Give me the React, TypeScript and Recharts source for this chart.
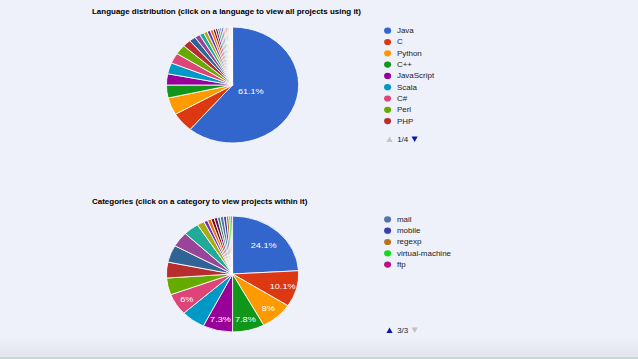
import React from 'react';
import { PieChart, Pie, Cell } from 'recharts';

const PALETTE = [
  '#3366cc', '#dc3912', '#ff9900', '#109618', '#990099', '#0099c6', '#dd4477', '#66aa00',
  '#b82e2e', '#316395', '#994499', '#22aa99', '#aaaa11', '#6633cc', '#e67300', '#8b0707',
  '#651067', '#329262', '#5574a6', '#3b3eac', '#b77322', '#16d620', '#b91383', '#f4359e',
  '#9c5935', '#a9c413', '#2a778d', '#668d1c', '#bea413', '#0c5922', '#743411',
];

const LANG_TITLE = 'Language distribution (click on a language to view all projects using it)';
const LANG_NAMES = [
  'Java', 'C', 'Python', 'C++', 'JavaScript', 'Scala', 'C#', 'Perl', 'PHP',
  'Ruby', 'Shell', 'Objective-C', 'Go', 'Haskell', 'Lua', 'Clojure', 'Erlang', 'Groovy',
  'R', 'Matlab', 'Assembly', 'Emacs Lisp', 'CoffeeScript', 'Visual Basic', 'OCaml', 'Scheme',
  'Fortran', 'Tcl', 'D', 'Prolog', 'Smalltalk',
];
const LANG_VALUES = [
  61.1, 5.5, 4.8, 3.6, 3.1, 3.1, 2.9, 2.7, 2.0,
  1.6, 1.3, 1.1, 0.9, 0.8, 0.7, 0.6, 0.55, 0.5,
  0.45, 0.4, 0.35, 0.3, 0.3, 0.25, 0.25, 0.2,
  0.2, 0.15, 0.1, 0.1, 0.1,
];
const LANG_PAGE = 0;

const CAT_TITLE = 'Categories (click on a category to view projects within it)';
const CAT_NAMES = [
  'web', 'database', 'library', 'framework', 'tool', 'network', 'testing', 'build', 'graphics',
  'security', 'compiler', 'game', 'parser', 'logging', 'cache', 'cli', 'editor', 'math',
  'mail', 'mobile', 'regexp', 'virtual-machine', 'ftp',
];
const CAT_VALUES = [
  24.1, 10.1, 8.0, 7.8, 7.3, 5.9, 6.0, 4.7, 4.4,
  4.8, 4.2, 3.8, 1.8, 0.9, 0.9, 0.8, 0.8, 0.7,
  0.8, 0.7, 0.6, 0.5, 0.4,
];
const CAT_PAGE = 2;

const PAGE_SIZE = 9;
const LABEL_MIN = 0.0599;

const SX = 1.14;
const NATIVE_W = 638 / SX;
const FONT = 'Arial, "Liberation Sans", sans-serif';
const RAD = Math.PI / 180;

const fmtPct = (p: number) => `${Math.round(p * 1000) / 10}%`;

const renderLabel = (props: any) => {
  const { cx, cy, midAngle, outerRadius, percent } = props;
  if (percent < LABEL_MIN) return null;
  let k: number;
  if (percent > 0.5) {
    const a = Math.PI * percent;
    k = (2 * Math.sin(a)) / (3 * a) * 0.9;
  } else {
    k = 0.68 + (0.25 - percent) * 0.7;
  }
  const r = outerRadius * k;
  const x = cx + r * Math.cos(-midAngle * RAD);
  const y = cy + r * Math.sin(-midAngle * RAD);
  return (
    <text x={x} y={y} fill="#ffffff" fontSize={8} fontFamily={FONT} textAnchor="middle" dominantBaseline="central">
      {fmtPct(percent)}
    </text>
  );
};

const makeData = (names: string[], values: number[]) => names.map((name, i) => ({ name, value: values[i] }));

const Tri = ({ x, y, up, color }: { x: number; y: number; up: boolean; color: string }) => {
  const w = 5.4;
  const h = 5.6;
  const pts = up
    ? `${x},${y + h / 2} ${x + w},${y + h / 2} ${x + w / 2},${y - h / 2}`
    : `${x},${y - h / 2} ${x + w},${y - h / 2} ${x + w / 2},${y + h / 2}`;
  return <polygon points={pts} fill={color} />;
};

const Legend = ({ names, page, y0, pagY }: { names: string[]; page: number; y0: number; pagY: number }) => {
  const pages = Math.ceil(names.length / PAGE_SIZE);
  const start = page * PAGE_SIZE;
  const items = names.slice(start, start + PAGE_SIZE);
  const hasPrev = page > 0;
  const hasNext = page < pages - 1;
  return (
    <g>
      {items.map((n, i) => (
        <g key={n}>
          <circle cx={340} cy={y0 + i * 11.3} r={3.1} fill={PALETTE[(start + i) % PALETTE.length]} />
          <text x={348.2} y={y0 + i * 11.3 + 2.5} fontSize={7} fontFamily={FONT} fill="#222222">{n}</text>
        </g>
      ))}
      <Tri x={339} y={pagY} up color={hasPrev ? '#0a1aa8' : '#c4c4c4'} />
      <text x={348.4} y={pagY + 2.5} fontSize={7} fontFamily={FONT} fill="#222222">{`${page + 1}/${pages}`}</text>
      <Tri x={361} y={pagY} up={false} color={hasNext ? '#0a1aa8' : '#c4c4c4'} />
    </g>
  );
};

const PieBlock = ({ names, values, top, height, cy }: { names: string[]; values: number[]; top: number; height: number; cy: number }) => (
  <div style={{ position: 'absolute', left: 0, top, width: NATIVE_W, height }}>
    <PieChart width={NATIVE_W} height={height} margin={{ top: 0, right: 0, bottom: 0, left: 0 }}>
      <Pie
        data={makeData(names, values)}
        dataKey="value"
        nameKey="name"
        cx={204}
        cy={cy}
        outerRadius={58}
        startAngle={90}
        endAngle={-270}
        stroke="#ffffff"
        strokeWidth={0.8}
        label={renderLabel}
        labelLine={false}
        isAnimationActive={false}
      >
        {names.map((n, i) => (
          <Cell key={n} fill={PALETTE[i % PALETTE.length]} />
        ))}
      </Pie>
    </PieChart>
  </div>
);

export default function App() {
  return (
    <div style={{ position: 'absolute', left: 0, top: 0, width: 638, height: 359, overflow: 'hidden', background: '#eef0fa' }}>
      <div style={{ position: 'absolute', left: 0, top: 338, width: 638, height: 17, background: 'linear-gradient(#eef0fa, #e2e4ee)' }} />
      <div style={{ position: 'absolute', left: 0, top: 355, width: 638, height: 1.5, background: '#e6e9ee' }} />
      <div style={{ position: 'absolute', left: 0, top: 356.5, width: 638, height: 3, background: '#c8d9d4' }} />
      <div style={{ position: 'absolute', left: 0, top: 0, width: NATIVE_W, height: 359, transform: `scaleX(${SX})`, transformOrigin: '0 0' }}>
        <PieBlock names={LANG_NAMES} values={LANG_VALUES} top={0} height={180} cy={85} />
        <PieBlock names={CAT_NAMES} values={CAT_VALUES} top={180} height={179} cy={94} />
        <svg width={NATIVE_W} height={359} style={{ position: 'absolute', left: 0, top: 0, pointerEvents: 'none' }}>
          <text x={80.7} y={13.6} fontSize={7} fontWeight="bold" fontFamily={FONT} fill="#000000">{LANG_TITLE}</text>
          <text x={80.7} y={203.6} fontSize={7} fontWeight="bold" fontFamily={FONT} fill="#000000">{CAT_TITLE}</text>
          <Legend names={LANG_NAMES} page={LANG_PAGE} y0={30.7} pagY={139.3} />
          <Legend names={CAT_NAMES} page={CAT_PAGE} y0={219.4} pagY={330.3} />
        </svg>
      </div>
    </div>
  );
}
